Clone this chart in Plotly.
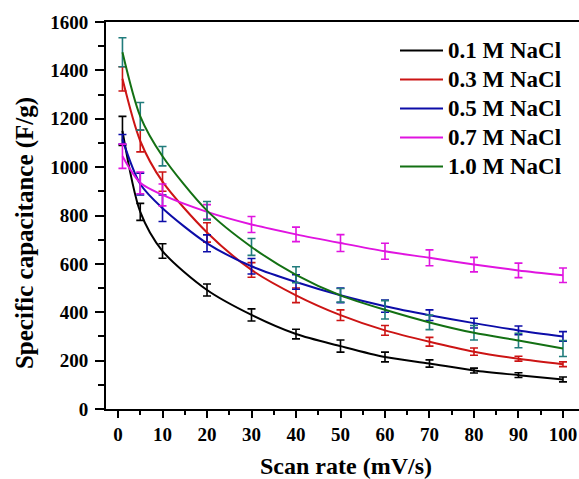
import plotly.graph_objects as go

scan_rate = [1, 5, 10, 20, 30, 40, 50, 60, 70, 80, 90, 100]

c01 = [1150, 815, 653, 492, 389, 310, 260, 215, 188, 159, 140, 122]
e01 = [60, 35, 30, 25, 25, 20, 25, 20, 15, 10, 10, 10]

c03 = [1365, 1108, 940, 730, 575, 470, 388, 325, 278, 237, 208, 185]
e03 = [50, 45, 40, 40, 30, 30, 22, 20, 18, 15, 10, 10]

c05 = [1115, 930, 830, 685, 590, 525, 470, 425, 388, 355, 325, 300]
e05 = [20, 45, 55, 35, 32, 30, 30, 25, 22, 20, 18, 20]

c07 = [1045, 935, 885, 815, 763, 722, 686, 652, 625, 597, 573, 553]
e07 = [50, 45, 45, 30, 33, 30, 35, 33, 33, 30, 30, 30]

c10 = [1475, 1210, 1045, 820, 670, 555, 470, 410, 358, 315, 283, 250]
e10 = [60, 57, 40, 38, 35, 33, 28, 38, 30, 30, 30, 33]

x_ticks = [0, 10, 20, 30, 40, 50, 60, 70, 80, 90, 100]
y_ticks = [0, 200, 400, 600, 800, 1000, 1200, 1400, 1600]

series = [
    ("0.1 M NaCl", c01, e01, "#000000", "#000000"),
    ("0.3 M NaCl", c03, e03, "#cc1414", "#cc1414"),
    ("0.5 M NaCl", c05, e05, "#0c0ca8", "#0c0ca8"),
    ("0.7 M NaCl", c07, e07, "#e014e0", "#e014e0"),
    ("1.0 M NaCl", c10, e10, "#137013", "#217c7c"),
]

fig = go.Figure()
for name, y, e, col, ecol in series:
    fig.add_trace(go.Scatter(
        x=scan_rate, y=y, name='<span style="font-size:23px">' + name + '</span>', mode="lines",
        line=dict(color=col, width=2, shape="spline", smoothing=0.8),
        error_y=dict(type="data", array=e, visible=True, color=ecol,
                     thickness=1.6, width=4),
    ))

font = dict(family="Liberation Serif", size=19, color="black", weight="bold")
tfont = dict(family="Liberation Serif", size=24, color="black", weight="bold")

fig.update_layout(
    width=579, height=479,
    margin=dict(l=106, r=0, t=22, b=70),
    paper_bgcolor="white", plot_bgcolor="white",
    font=font,
    showlegend=True,
    legend=dict(x=0.611, y=0.977, xanchor="left", yanchor="top",
                bgcolor="rgba(0,0,0,0)", font=dict(family="Liberation Serif", size=20, color="black", weight="bold"),
                tracegroupgap=0, itemwidth=43),
    xaxis=dict(
        range=[-2.7, 103.6], tickmode="array", automargin=False,
        tickvals=x_ticks,
        ticks="outside", ticklen=7, tickwidth=2, tickcolor="black",
        minor=dict(tickvals=[5, 15, 25, 35, 45, 55, 65, 75, 85, 95], ticks="outside", ticklen=4, tickwidth=2, tickcolor="black"),
        showline=True, linecolor="black", linewidth=2, mirror=True,
        showgrid=False, zeroline=False,
        tickfont=font,
    ),
    yaxis=dict(
        range=[0, 1600], tickmode="array", automargin=False,
        tickvals=y_ticks,
        ticks="outside", ticklen=9, tickwidth=2, tickcolor="black", ticklabelstandoff=3,
        minor=dict(tickvals=[100, 300, 500, 700, 900, 1100, 1300, 1500], ticks="outside", ticklen=6, tickwidth=2, tickcolor="black"),
        showline=True, linecolor="black", linewidth=2, mirror=False,
        showgrid=False, zeroline=False,
        tickfont=font,
    ),
    annotations=[
        dict(text="Scan rate (mV/s)", xref="paper", yref="paper", x=0.507, y=-0.147,
             xanchor="center", yanchor="middle", showarrow=False, font=tfont),
        dict(text="Specific capacitance (F/g)", xref="paper", yref="paper", x=-0.171, y=0.455,
             xanchor="center", yanchor="middle", showarrow=False, textangle=-90,
             font=dict(family="Liberation Serif", size=25, color="black", weight="bold")),
    ],
)

fig.write_html("out.html", config={"displayModeBar": False},
               post_script="document.body.style.margin='0';document.body.style.padding='0';")
